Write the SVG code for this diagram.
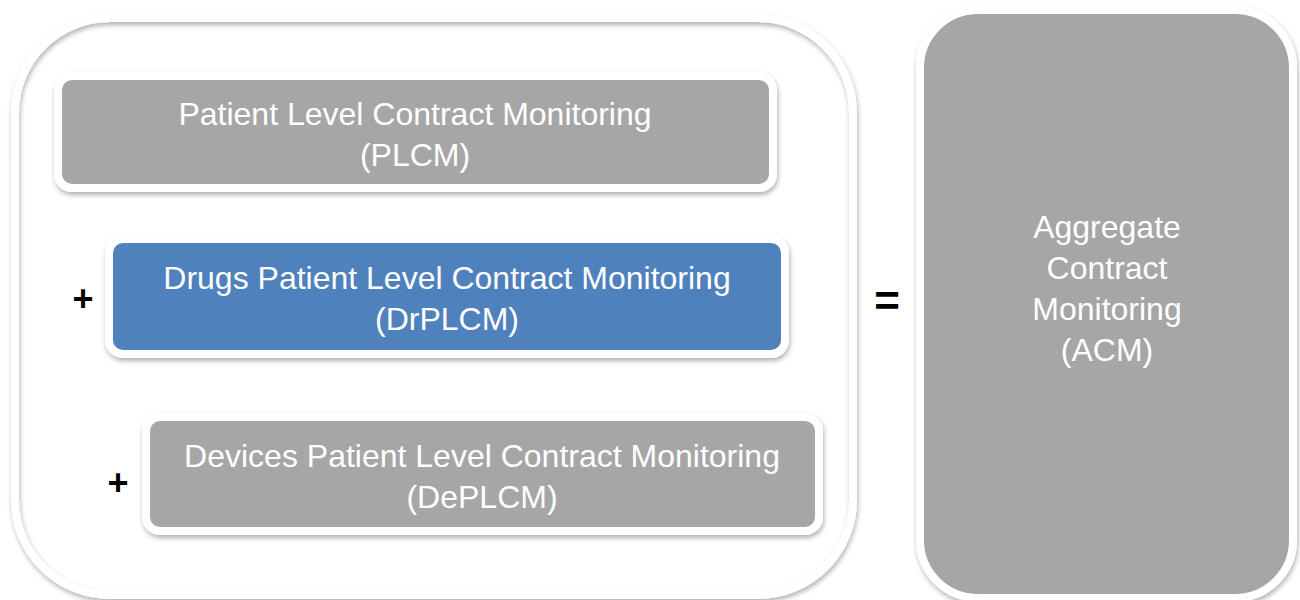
<svg xmlns="http://www.w3.org/2000/svg" width="1300" height="600" viewBox="0 0 1300 600">
  <defs>
    <filter id="sh" x="-10%" y="-10%" width="120%" height="120%">
      <feDropShadow dx="1" dy="3" stdDeviation="2.5" flood-color="#000" flood-opacity="0.3"/>
    </filter>
    <style>
      .box { stroke: #FFFFFF; stroke-width: 8; filter: url(#sh); }
      .gray { fill: #A6A6A6; }
      .blue { fill: #4F81BD; }
      .lbl { font-family: "Liberation Sans", Arial, sans-serif; font-size: 32px; fill: #FFFFFF; text-anchor: middle; }
      .op { font-family: "Liberation Sans", Arial, sans-serif; font-weight: bold; fill: #000000; text-anchor: middle; }
    </style>
  </defs>
  <rect width="1300" height="600" fill="#FFFFFF"/>

  <g id="container">
    <rect x="15" y="18" width="838" height="577" rx="95" ry="95" fill="none" class="box"/>
  </g>

  <g id="plcm">
    <rect x="58" y="76" width="715" height="112" rx="14" ry="14" class="box gray"/>
    <text class="lbl" x="415" y="125">Patient Level Contract Monitoring</text>
    <text class="lbl" x="415" y="166">(PLCM)</text>
  </g>

  <g id="drplcm">
    <rect x="109" y="239" width="676" height="115" rx="14" ry="14" class="box blue"/>
    <text class="lbl" x="447" y="289">Drugs Patient Level Contract Monitoring</text>
    <text class="lbl" x="447" y="330">(DrPLCM)</text>
  </g>

  <g id="deplcm">
    <rect x="146" y="417" width="673" height="114" rx="14" ry="14" class="box gray"/>
    <text class="lbl" x="482" y="467">Devices Patient Level Contract Monitoring</text>
    <text class="lbl" x="482" y="508">(DePLCM)</text>
  </g>

  <g id="acm">
    <rect x="920" y="10" width="373" height="588" rx="58" ry="58" class="box gray"/>
    <text class="lbl" x="1107" y="238">Aggregate</text>
    <text class="lbl" x="1107" y="279">Contract</text>
    <text class="lbl" x="1107" y="320">Monitoring</text>
    <text class="lbl" x="1107" y="361">(ACM)</text>
  </g>

  <g id="connectors">
    <text class="op" x="83" y="311" font-size="36">+</text>
    <text class="op" x="118" y="495" font-size="36">+</text>
    <text class="op" x="887" y="316" font-size="44">=</text>
  </g>
</svg>
